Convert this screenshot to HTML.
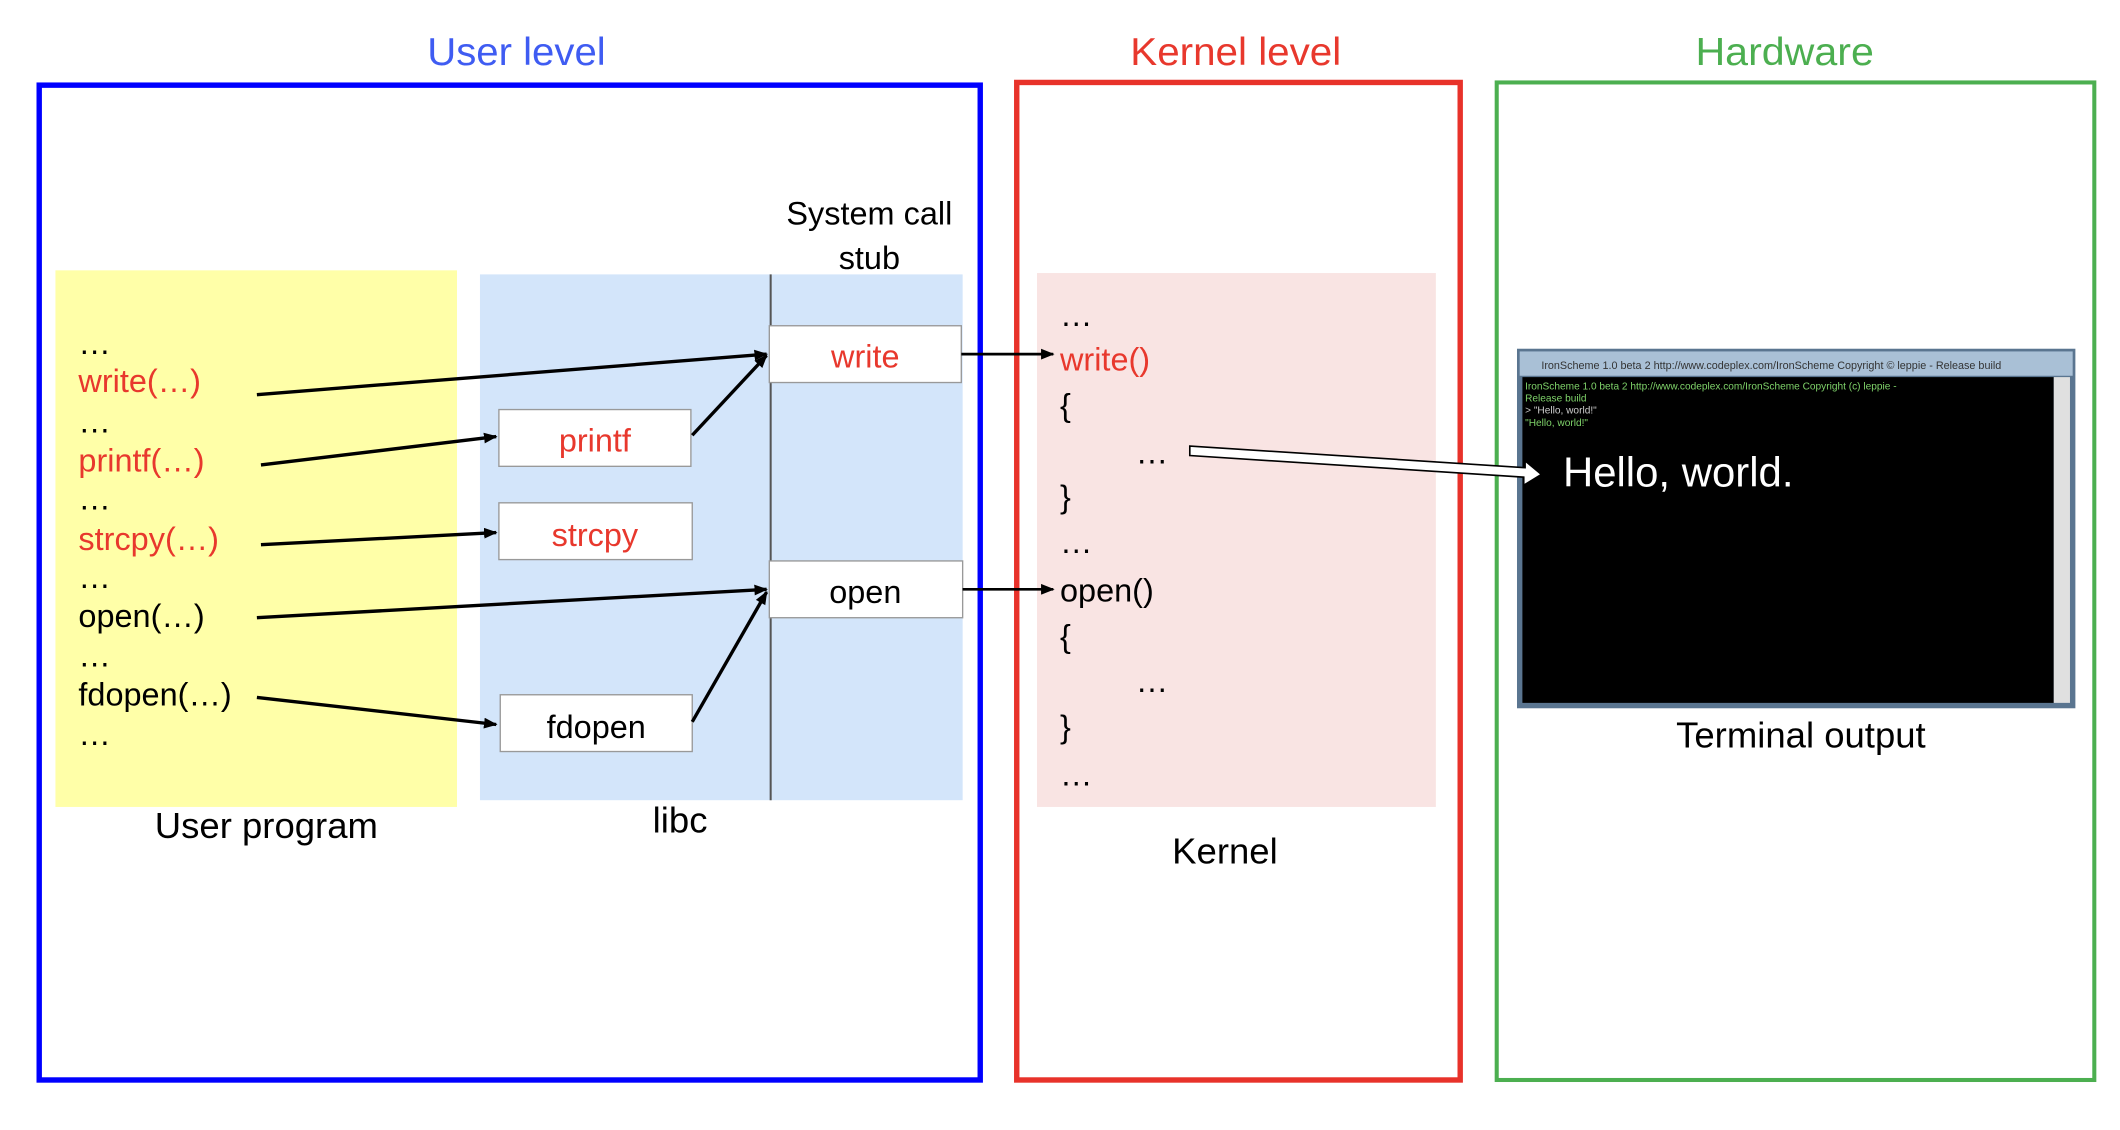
<!DOCTYPE html>
<html><head><meta charset="utf-8"><style>
html,body{margin:0;padding:0;background:#fff;}
svg{display:block;}
text{font-family:"Liberation Sans",sans-serif;}
</style></head><body>
<svg width="2120" height="1130" viewBox="0 0 1568 836" preserveAspectRatio="none" xmlns="http://www.w3.org/2000/svg">
<defs>
<marker id="ah" markerWidth="10" markerHeight="8" refX="9" refY="4" orient="auto" markerUnits="userSpaceOnUse">
<path d="M0,0 L10,4 L0,8 Z" fill="#000"/></marker>
</defs>
<rect width="1568" height="836" fill="#fff"/>
<g font-size="29" text-anchor="middle">
<text x="382" y="48" fill="#3f5cf2" textLength="132" lengthAdjust="spacingAndGlyphs">User level</text>
<text x="914" y="48" fill="#e8382d" textLength="156" lengthAdjust="spacingAndGlyphs">Kernel level</text>
<text x="1320" y="48" fill="#4caf50" textLength="132" lengthAdjust="spacingAndGlyphs">Hardware</text>
</g>
<rect x="29" y="63" width="696" height="736" fill="none" stroke="#0000ff" stroke-width="4"/>
<rect x="752" y="61" width="328" height="738" fill="none" stroke="#e8322a" stroke-width="4"/>
<rect x="1107" y="61" width="442" height="738" fill="none" stroke="#4caf50" stroke-width="3"/>
<rect x="41" y="200" width="297" height="397" fill="#ffffa8"/>
<rect x="355" y="203" width="357" height="389" fill="#d3e5fa"/>
<line x1="570" y1="203" x2="570" y2="592" stroke="#555" stroke-width="1.5"/>
<rect x="767" y="202" width="295" height="395" fill="#f9e4e3"/>
<g fill="#fff" stroke="#999" stroke-width="1">
<rect x="569" y="241" width="142" height="42"/>
<rect x="369" y="303" width="142" height="42"/>
<rect x="369" y="372" width="143" height="42"/>
<rect x="569" y="415" width="143" height="42"/>
<rect x="370" y="514" width="142" height="42"/>
</g>
<g font-size="24" text-anchor="middle">
<text x="640" y="272" fill="#e8382d">write</text>
<text x="440" y="334" fill="#e8382d">printf</text>
<text x="440" y="404" fill="#e8382d">strcpy</text>
<text x="640" y="446" fill="#000">open</text>
<text x="441" y="546" fill="#000">fdopen</text>
<text x="643" y="166" fill="#000">System call</text>
<text x="643" y="199" fill="#000">stub</text>
<text x="197" y="620" font-size="27">User program</text>
<text x="503" y="616" font-size="27">libc</text>
<text x="906" y="639" font-size="27">Kernel</text>
<text x="1332" y="553" font-size="27">Terminal output</text>
</g>
<g font-size="24" fill="#000">
<text x="58" y="262">…</text>
<text x="58" y="290" fill="#e8382d">write(…)</text>
<text x="58" y="320">…</text>
<text x="58" y="349" fill="#e8382d">printf(…)</text>
<text x="58" y="377">…</text>
<text x="58" y="407" fill="#e8382d">strcpy(…)</text>
<text x="58" y="435">…</text>
<text x="58" y="464">open(…)</text>
<text x="58" y="493">…</text>
<text x="58" y="522">fdopen(…)</text>
<text x="58" y="551">…</text>
<text x="784" y="241">…</text>
<text x="784" y="274" fill="#e8382d">write()</text>
<text x="784" y="308">{</text>
<text x="840" y="343">…</text>
<text x="784" y="376">}</text>
<text x="784" y="409">…</text>
<text x="784" y="445">open()</text>
<text x="784" y="479">{</text>
<text x="840" y="512">…</text>
<text x="784" y="546">}</text>
<text x="784" y="581">…</text>
</g>
<g stroke="#000" stroke-width="2.5" marker-end="url(#ah)">
<line x1="190" y1="292" x2="567" y2="262"/>
<line x1="193" y1="344" x2="367" y2="323"/>
<line x1="193" y1="403" x2="367" y2="394"/>
<line x1="190" y1="457" x2="567" y2="436"/>
<line x1="190" y1="516" x2="367" y2="536"/>
<line x1="512" y1="322" x2="567" y2="263"/>
<line x1="512" y1="534" x2="567" y2="438"/>
<line x1="711" y1="262" x2="779" y2="262" stroke-width="2"/>
<line x1="712" y1="436" x2="779" y2="436" stroke-width="2"/>
</g>
<rect x="1122" y="258" width="413" height="266" fill="#5a7590"/>
<rect x="1124" y="260" width="409" height="18" fill="#a9c0d6"/>
<text x="1140" y="273" font-size="8" fill="#333">IronScheme 1.0 beta 2 http://www.codeplex.com/IronScheme Copyright © leppie - Release build</text>
<rect x="1126" y="279" width="393" height="241" fill="#000"/>
<rect x="1519" y="279" width="12" height="241" fill="#e0e0e0"/>
<g font-family="Liberation Mono" font-size="7.5" fill="#7fd36a">
<text x="1128" y="288">IronScheme 1.0 beta 2 http://www.codeplex.com/IronScheme Copyright (c) leppie -</text>
<text x="1128" y="297">Release build</text>
<text x="1128" y="306" fill="#ccc">&gt; "Hello, world!"</text>
<text x="1128" y="315">"Hello, world!"</text>
</g>
<text x="1156" y="360" font-size="31" fill="#fff">Hello, world.</text>
<path d="M880,330 L1128,346 L1128,341 L1140,351 L1127,359 L1127,353 L880,337 Z" fill="#fff" stroke="#000" stroke-width="1.2"/>
</svg>
</body></html>
